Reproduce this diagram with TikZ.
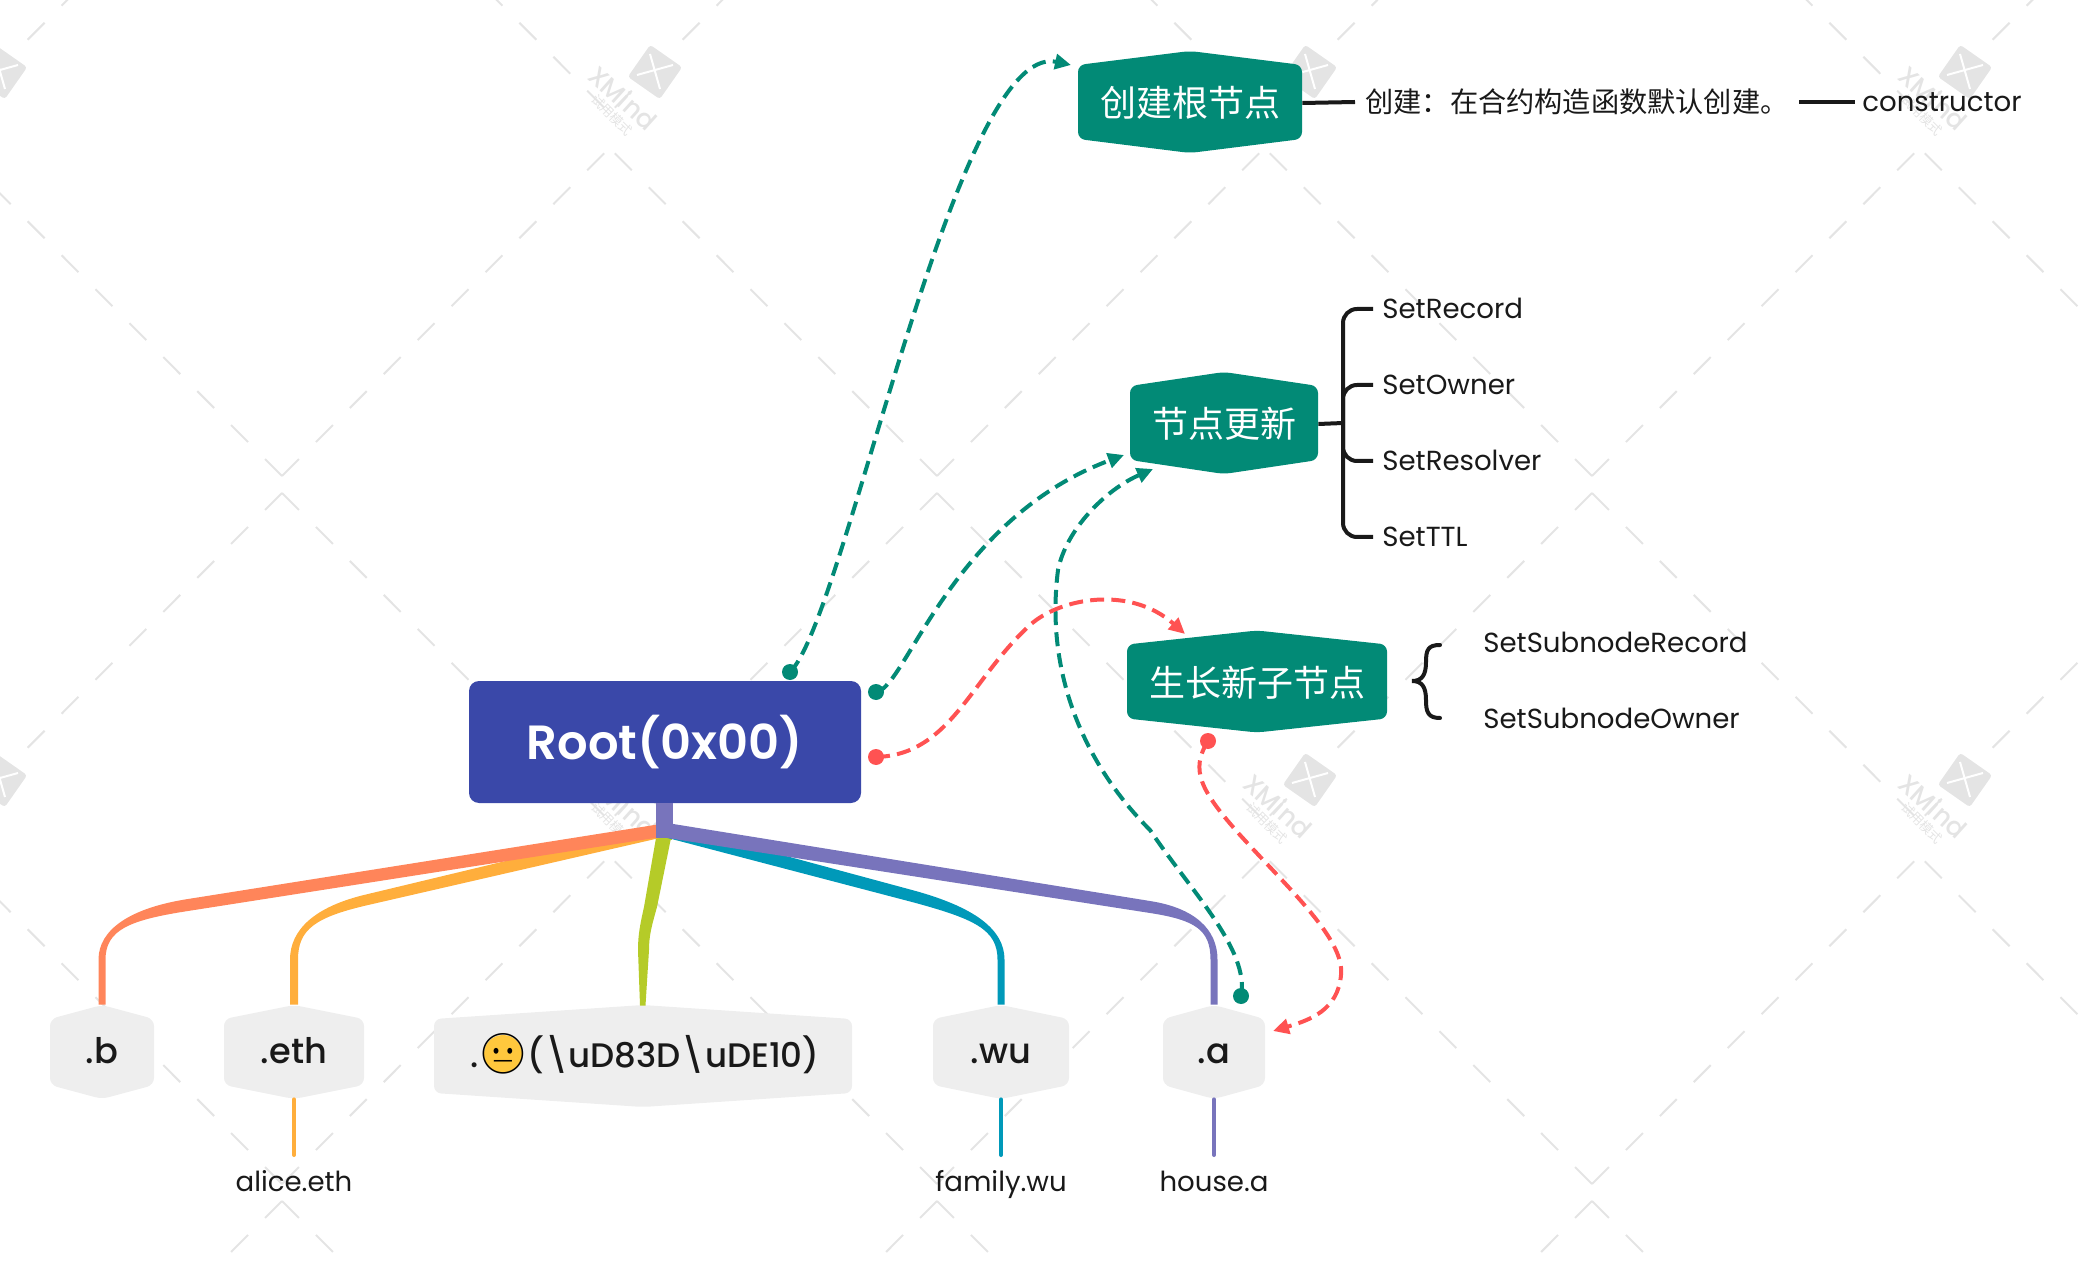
\documentclass[tikz,border=0pt]{standalone}
\usepackage{fontspec}
\setmainfont{Poppins}
\newfontfamily\cjk{Noto Sans CJK SC}
\newfontfamily\emoji{Noto Emoji}
\newfontfamily\medfont{Poppins Medium}
\newfontfamily\semifont{Poppins SemiBold}
\usetikzlibrary{arrows.meta,positioning,calc}

\definecolor{tealbox}{HTML}{028A76}
\definecolor{rootblue}{HTML}{3A48A9}
\definecolor{greybox}{HTML}{EEEEEE}
\definecolor{redrel}{HTML}{FF5252}
\definecolor{orangeline}{HTML}{FF855A}
\definecolor{yellowline}{HTML}{FFAE3C}
\definecolor{greenline}{HTML}{B5CB28}
\definecolor{blueline}{HTML}{0099B9}
\definecolor{purpleline}{HTML}{7874BC}
\definecolor{faceyellow}{HTML}{FFC83D}
\definecolor{wmgrey}{HTML}{E4E4E4}

\tikzset{
  hexfill/.style={rounded corners=3.5pt},
  hextext/.style={inner sep=0pt,text=white,yshift=-0.5pt,font=\cjk\fontsize{18}{20}\selectfont},
  tldtext/.style={inner sep=0pt,text height=13pt,text depth=2pt,text=black!90,font=\medfont\fontsize{17.6}{20}\selectfont},
  facefont/.style={inner sep=0pt,text height=13pt,text depth=2pt,text=black!90,font=\medfont\fontsize{17}{20}\selectfont},
  leaf/.style={anchor=west,inner sep=0pt,text height=11.5pt,text depth=2pt,text=black!90,font=\fontsize{13.8}{15}\selectfont},
  sublabel/.style={inner sep=0pt,text height=11.5pt,text depth=2pt,text=black!90,font=\fontsize{13.8}{15}\selectfont},
  topicline/.style={line width=2pt,black!90},
  tealrel/.style={draw=tealbox,line width=2pt,dash pattern=on 7pt off 3.6pt,-{Triangle[length=8pt,width=7.5pt]}},
  redrel/.style={draw=redrel,line width=2pt,dash pattern=on 7pt off 3.6pt,-{Triangle[length=8pt,width=7.5pt]}},
  tealdot/.style={circle,fill=tealbox,inner sep=0pt,minimum size=8pt},
  reddot/.style={circle,fill=redrel,inner sep=0pt,minimum size=8pt},
  wmline/.style={draw=wmgrey,line width=1pt,dash pattern=on 12pt off 12pt},
  wmlogo/.style={fill=wmgrey,rounded corners=1.5pt,rotate=-35,inner sep=0pt,minimum size=19.5pt}
}

% name, cx, cy, half width, half height, fill, text, text style
\newcommand\hexnode[8][hextext]{
  \fill[#7,hexfill] (#3-#5,#4) -- (#3-#5,#4-#6) -- (#3,#4-#6-14) -- (#3+#5,#4-#6) -- (#3+#5,#4+#6) -- (#3,#4+#6+14) -- (#3-#5,#4+#6) -- cycle;
  \node[#1,minimum width=#5 pt,minimum height=#6 pt+14pt] (#2) at (#3,#4) {#8};
}

% colour, target, elbow, control, offset at hub, offset at elbow, half width at target
\newcommand\branch[7]{
  \fill[#1] ($(hub)+(#5)$) -- ($(#3)+(#6)$) .. controls ($(#4)+(#6)$) and ($(#2.north)+(-#7,-75)$) .. ($(#2.north)+(-#7,-45)$)
    -- ($(#2.north)+(-#7,0)$) -- ($(#2.north)+(#7,0)$) -- ($(#2.north)+(#7,-45)$)
    .. controls ($(#2.north)+(#7,-75)$) and ($(#4)-(#6)$) .. ($(#3)-(#6)$) -- ($(hub)-(#5)$) -- cycle;
}

% grey mark: column, row, then its two words
\newcommand\wmwords[2]{
  \node[rotate=-42,text=wmgrey,inner sep=0pt,font=\medfont\fontsize{13}{14}\selectfont] (wmname#1#2) at (655*#1-32,98+708*#2) {XMind};
  \node[rotate=-45,text=wmgrey,inner sep=0pt,font=\cjk\fontsize{6.5}{7}\selectfont] (wmtrial#1#2) at (655*#1-43,115+708*#2) {试用模式};
}

\begin{document}
\begin{tikzpicture}[x=0.5pt,y=-0.5pt]
\useasboundingbox (0,0) rectangle (2084,1262);

% background marks
\foreach \n in {-1,0,1}
  \foreach \k in {-1,...,3} {
    \draw[wmline] (282+655*\k,476+708*\n) -- (609.5+655*\k,148+708*\n);
    \draw[wmline] (937+655*\k,476+708*\n) -- (609.5+655*\k,148+708*\n);
    \draw[wmline] (282+655*\k,493+708*\n) -- (609.5+655*\k,821+708*\n);
    \draw[wmline] (282+655*\k,493+708*\n) -- (-45.5+655*\k,821+708*\n);
  }
\foreach \n in {0,1}
  \foreach \k in {0,...,3} {
    \node[wmlogo] (logo\k\n) at (655*\k,72+708*\n) {};
    \draw[white,line width=1pt] ($(logo\k\n)+(-5,-18)$) -- ($(logo\k\n)+(5,17)$);
    \draw[white,line width=1pt] ($(logo\k\n)+(-18,3)$) -- ($(logo\k\n)+(18,-7)$);
  }
\wmwords{1}{0}
\wmwords{3}{0}
\wmwords{1}{1}
\wmwords{2}{1}
\wmwords{3}{1}

\node[fill=rootblue,rounded corners=5pt,inner sep=0pt,minimum width=196pt,minimum height=61pt,text=white,font=\semifont\fontsize{24}{28}\selectfont] (root) at (665,742) {Root(0x00)};
\coordinate (hub) at (664,830);

% right side topics
\hexnode{create}{1190}{102}{112}{37}{tealbox}{创建根节点}
\hexnode{update}{1224}{423}{94}{37}{tealbox}{节点更新}
\hexnode{grow}{1257}{681.5}{130}{37}{tealbox}{生长新子节点}

% lower row
\hexnode[tldtext]{tldb}{102}{1052}{52}{33}{greybox}{.b}
\hexnode[tldtext]{tldeth}{294}{1052}{70}{33}{greybox}{.eth}
\hexnode{tldface}{643}{1056}{209}{37}{greybox}{}
\hexnode[tldtext]{tldwu}{1001}{1052}{68}{33}{greybox}{.wu}
\hexnode[tldtext]{tlda}{1214}{1052}{51}{33}{greybox}{.a}

\node[facefont,anchor=west] (facetext) at (527,1056) {(\textbackslash uD83D\textbackslash uDE10)};
\fill[faceyellow] (503,1054) circle [radius=19];
\node[inner sep=0pt,text=black,font=\emoji\fontsize{20}{22}\selectfont] (face) at (503,1054) {😐};
\node[facefont,anchor=west] (facedot) at (470,1056) {.};

% tree branches from root
\fill[greenline] ($(root.south)+(7,0)$) rectangle ($(hub)+(-8,10)$);
\fill[greenline] (656,838) -- (644,907) .. controls (640,925) and (638,935) .. (638,950) -- ($(tldface.north)+(-3,0)$) -- ($(tldface.north)+(2.5,0)$) -- (649,950) .. controls (649,935) and (652,925) .. (657,907) -- (671,838) -- cycle;
\branch{blueline}{tldwu}{912,896}{975,913}{0,7}{0,6}{3.5}
\branch{yellowline}{tldeth}{366,900}{315,912}{0,-7}{0,-5.5}{4}
\branch{orangeline}{tldb}{188,905}{130,914}{0,-6.5}{0,-6}{3.5}
\branch{purpleline}{tlda}{1150,907}{1195,914}{0,7.5}{0,6}{3.5}
\fill[purpleline] ($(hub)+(-8.5,-27)$) rectangle ($(hub)+(8.5,8)$);

\node[sublabel] (alice) at (294,1182) {alice.eth};
\node[sublabel] (family) at (1001,1182) {family.wu};
\node[sublabel] (house) at (1214,1182) {house.a};
\draw[yellowline,line width=2pt,line cap=round] (tldeth.south) -- (alice.north |- 0,1155);
\draw[blueline,line width=2pt,line cap=round] (tldwu.south) -- (family.north |- 0,1155);
\draw[purpleline,line width=2pt,line cap=round] (tlda.south) -- (house.north |- 0,1155);

% create
\node[anchor=west,inner sep=0pt,text=black!90,font=\cjk\fontsize{14.1}{16}\selectfont] (createtext) at (1365,102) {创建：在合约构造函数默认创建。};
\node[leaf] (ctor) at (1862,102) {constructor};
\draw[topicline] (create.east) -- (createtext.west -| 1355,0);
\draw[topicline] (1799,102) -- (1855,102);

% update
\node[leaf] (setrecord) at (1382,309) {SetRecord};
\node[leaf] (setowner) at (1382,385) {SetOwner};
\node[leaf] (setresolver) at (1382,461) {SetResolver};
\node[leaf] (setttl) at (1382,537) {SetTTL};
\coordinate (trunk) at (1343,423);
\draw[topicline] (update.east) -- (trunk);
\draw[topicline,rounded corners=7pt] (1373,309) -- (1343,309) -- (1343,537) -- (1373,537);
\draw[topicline,rounded corners=7pt] (1373,385) -- (1343,385) -- (trunk);
\draw[topicline,rounded corners=7pt] (1373,461) -- (1343,461) -- (trunk);

% grow
\node[leaf] (subrecord) at (1483,643) {SetSubnodeRecord};
\node[leaf] (subowner) at (1483,719) {SetSubnodeOwner};
\draw[topicline,line cap=round] (1440,645) .. controls (1428,645) and (1426,650) .. (1426,662) .. controls (1426,675) and (1422,681) .. (1412,681) .. controls (1422,681) and (1426,687) .. (1426,700) .. controls (1426,712) and (1428,718) .. (1440,718);

% dashed relations
\node[tealdot] (rootup) at (790,672) {};
\node[tealdot] (rootright) at (876,692) {};
\node[reddot] (rootred) at (876,757) {};
\node[tealdot] (adot) at (1241,996) {};
\node[reddot] (growdot) at (1208,741) {};
\coordinate (createin) at (1071,65);
\coordinate (updatein) at (1124,455);
\coordinate (updatein2) at (1153,469);
\coordinate (growin) at (1185,634);
\coordinate (ain) at (1273,1031);

\draw[tealrel] (rootup.center) .. controls (845,620) and (955,40) .. (createin);
\draw[tealrel] (rootright.center) .. controls (905,690) and (950,520) .. (updatein);
\draw[tealrel] (adot.center) .. controls (1250,950) and (1190,890) .. (1150,830) .. controls (1090,770) and (1044,680) .. (1058,570) .. controls (1066,530) and (1105,490) .. (updatein2);
\draw[redrel] (rootred.center) .. controls (950,755) and (970,680) .. (1030,625) .. controls (1060,598) and (1130,585) .. (growin);
\draw[redrel] (growdot.center) .. controls (1190,770) and (1200,790) .. (1240,835) .. controls (1290,890) and (1345,940) .. (1341,975) .. controls (1338,1010) and (1310,1020) .. (ain);
\end{tikzpicture}
\end{document}
